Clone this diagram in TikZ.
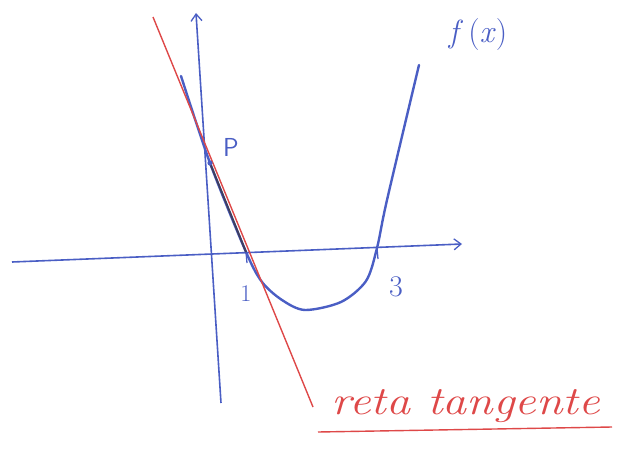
\documentclass[tikz,border=0pt]{standalone}
\usepackage{graphicx}
\usepackage{xcolor}
\usetikzlibrary{arrows.meta}
\definecolor{penblue}{RGB}{74,94,196}
\definecolor{penred}{RGB}{222,72,72}
\definecolor{pendark}{RGB}{62,62,96}
\tikzset{
    axis-line/.style = {draw=penblue, line width=1.6pt, -{Straight Barb[length=7pt, width=11pt, line width=1.3pt]}},
    curve-line/.style = {draw=penblue, line width=2.4pt, line cap=round, line join=round},
    tangent-line/.style = {draw=penred, line width=1.4pt},
    blue-label/.style = {text=penblue, inner sep=0pt},
    red-label/.style = {text=penred, inner sep=0pt, font=\fontsize{40}{44}\selectfont\itshape},
}

\begin{document}
\begin{tikzpicture}[x=1pt,y=-1pt]
\useasboundingbox (0,0) rectangle (629,452);
% axes
\coordinate (xstart) at (12,262);
\coordinate (xend) at (462,244);
\coordinate (ystart) at (221,403);
\coordinate (yend) at (196,13);
\draw[axis-line] (xstart) -- (xend);
\draw[axis-line] (ystart) -- (yend);
% curve f(x)
\coordinate (P) at (210,163);
\coordinate (one) at (246,252);
\coordinate (three) at (377,248);
\draw[curve-line] plot[smooth, tension=0.5] coordinates {(181,76) (P) (one) (262,282) (282,300) (305,310) (341,302) (366,281) (three) (387,200) (419,65)};
% tangent at P
\coordinate (ttop) at (153,17);
\coordinate (tbot) at (313,407);
\draw[tangent-line] (ttop) -- (tbot);
\draw[draw=pendark, line width=2pt, line cap=round] (P) -- (one);
\fill[penblue] (P) circle (2.6pt);
% ticks
\draw[penblue, line width=1.3pt] (one) -- ++(1,11);
\draw[penblue, line width=1.3pt] (three) -- ++(1,11);
% labels
\node[blue-label, font=\fontsize{26}{28}\selectfont\sffamily] (Plabel) at (231,147) {P};
\node[blue-label, font=\fontsize{24}{26}\selectfont] (onelabel) at (246,294) {1};
\node[blue-label, font=\fontsize{30}{32}\selectfont] (threelabel) at (396,287) {3};
\node[blue-label, font=\fontsize{32}{34}\selectfont] (flabel) at (478,35) {\textit{f}\,(\textit{x})};
\node[red-label] (tangent) at (466,406) {\scalebox{1.2}[1]{reta tangente}};
\coordinate (ulleft) at (318,432);
\coordinate (ulright) at (612,427);
\draw[tangent-line] (ulleft) -- (ulright);
\end{tikzpicture}
\end{document}
